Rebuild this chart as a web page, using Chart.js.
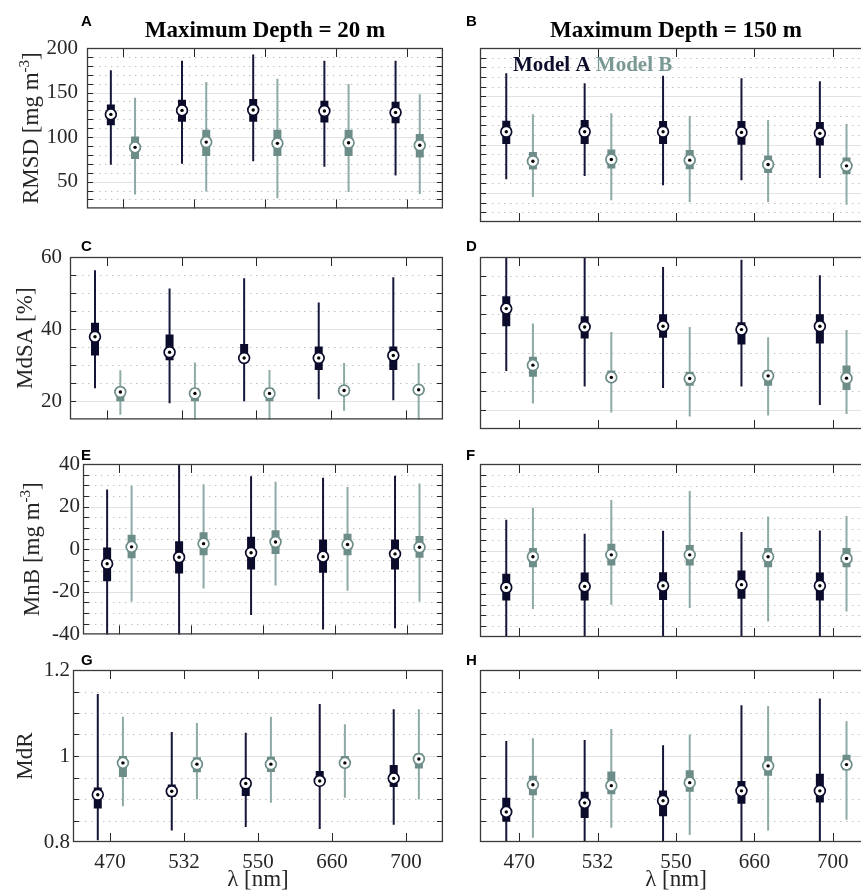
<!DOCTYPE html>
<html>
<head>
<meta charset="utf-8">
<script src="https://cdn.jsdelivr.net/npm/chart.js@4.4.1/dist/chart.umd.min.js"></script>
<style>
html, body { margin: 0; padding: 0; background: #fff; overflow: hidden; width: 861px; height: 890px; }
canvas { position: absolute; }
</style>
</head>
<body>
<canvas id="pA" width="450" height="230" style="left:0;top:0"></canvas>
<canvas id="pB" width="425" height="230" style="left:455px;top:0"></canvas>
<canvas id="pC" width="450" height="210" style="left:0;top:230px"></canvas>
<canvas id="pD" width="425" height="210" style="left:455px;top:230px"></canvas>
<canvas id="pE" width="450" height="210" style="left:0;top:440px"></canvas>
<canvas id="pF" width="425" height="210" style="left:455px;top:440px"></canvas>
<canvas id="pG" width="450" height="240" style="left:0;top:650px"></canvas>
<canvas id="pH" width="425" height="240" style="left:455px;top:650px"></canvas>
<script>
var wavelengths = ['470', '532', '550', '660', '700'];
var seriesNames = ['Model A', 'Model B'];
var depthTitles = ['Maximum Depth = 20 m', 'Maximum Depth = 150 m'];

// each row: [lower whisker, q1, median, q3, upper whisker]
var rmsd20A = [[69, 113.4, 125.5, 136.6, 175], [70, 117.2, 130, 141.8, 185.8], [72.9, 117.2, 130.4, 142.8, 192.7], [66.6, 116.5, 129.3, 140.8, 185.8], [57, 115.5, 127.6, 139.7, 185.8]];
var rmsd20B = [[35.5, 75.3, 88.5, 100.6, 144.2], [39, 78.8, 94.4, 108.2, 161.9], [31.3, 78.8, 93, 108.2, 165.4], [38.3, 78.8, 93.7, 108.2, 159.5], [36.2, 77, 90.9, 103.4, 148]];
var rmsd150A = [[64.2, 100.6, 113.4, 124.8, 174], [67.7, 100.6, 113.4, 125.5, 163.6], [58, 100.6, 113.4, 124.5, 171.3], [63.2, 99.9, 112.7, 124.5, 168.8], [65.6, 99.2, 111.7, 123.4, 165.7]];
var rmsd150B = [[45.9, 74.3, 82.9, 92.3, 131.4], [42.4, 75.3, 84.7, 95, 132.5], [40.7, 74.6, 84, 94.4, 129.7], [40.7, 70.8, 79.5, 88.8, 125.5], [37.9, 69.4, 78.1, 86.7, 121.4]];

var mdsa20A = [[23.6, 32.7, 37.9, 41.8, 56.3], [19.5, 31.4, 33.6, 38.5, 51.3], [20, 31, 32, 35.9, 54.1], [20.6, 28.7, 32, 35.2, 47.4], [20.3, 28.7, 32.7, 35.2, 54.4]];
var mdsa20B = [[16.3, 20, 22.6, 24, 28.6], [14, 20, 22.2, 23.6, 30.8], [14, 20, 22.2, 23.8, 28.7], [17.4, 22.3, 23, 24, 30.6], [14, 22.5, 23.2, 24.2, 30.6]];
var mdsa150A = [[30.2, 41.9, 46.5, 49.7, 62], [26.1, 38.7, 41.7, 44.5, 62], [25.7, 38.9, 41.9, 45, 57.4], [26.1, 37.1, 41, 42.9, 59.3], [21.3, 37.4, 41.9, 45, 55.2]];
var mdsa150B = [[21.7, 28.7, 31.7, 33.9, 42.6], [19.3, 27.4, 28.5, 30.3, 40.4], [18.3, 26.3, 28.2, 30, 41.7], [18.5, 26.3, 28.9, 30.4, 39], [18.9, 25.2, 28.3, 31.6, 40.9]];

var mnb20A = [[-42, -15.1, -6.8, 0.8, 28], [-42, -11.4, -3.8, 3.7, 42], [-30.9, -9.5, -1.7, 5.8, 34.2], [-37.7, -11.1, -3.5, 4.6, 33.5], [-37.1, -9.5, -2.2, 4.6, 34.5]];
var mnb20B = [[-24.6, -4.3, 1.1, 6.8, 29.8], [-18.5, -2.8, 2.6, 8, 30.5], [-17.1, -2.2, 3.4, 8.9, 31.7], [-19.5, -2.8, 2.2, 7.2, 29.2], [-24.6, -4, 0.9, 6.2, 30.8]];
var mnb150A = [[-42, -23.1, -17.1, -10.8, 14.2], [-42, -23.1, -16.6, -10.2, 7.7], [-42, -22.9, -16.3, -10, 9.1], [-42, -22.3, -15.8, -9.2, 8.5], [-42, -23.1, -16.3, -10.2, 9.2]];
var mnb150B = [[-27.1, -7.8, -2.9, 1.2, 19.7], [-25.1, -6.9, -2, 3.1, 23.4], [-26.6, -6.9, -2, 2.6, 27.5], [-32.8, -7.8, -2.9, 1.2, 15.7], [-28.2, -7.8, -3.7, 1.2, 16]];

var mdr20A = [[0.804, 0.878, 0.910, 0.927, 1.144], [0.827, 0.905, 0.918, 0.934, 1.056], [0.835, 0.907, 0.936, 0.949, 1.054], [0.830, 0.932, 0.942, 0.965, 1.121], [0.840, 0.928, 0.948, 0.979, 1.109]];
var mdr20B = [[0.883, 0.951, 0.984, 1.0, 1.091], [0.899, 0.962, 0.981, 0.997, 1.077], [0.891, 0.963, 0.981, 0.998, 1.091], [0.903, 0.973, 0.984, 1.0, 1.074], [0.899, 0.971, 0.993, 1.006, 1.109]];
var mdr150A = [[0.79, 0.847, 0.870, 0.903, 1.035], [0.79, 0.856, 0.891, 0.917, 1.037], [0.79, 0.860, 0.896, 0.920, 1.025], [0.79, 0.889, 0.919, 0.942, 1.118], [0.79, 0.892, 0.919, 0.959, 1.134]];
var mdr150B = [[0.810, 0.909, 0.933, 0.954, 1.041], [0.833, 0.911, 0.931, 0.964, 1.063], [0.816, 0.917, 0.938, 0.967, 1.050], [0.827, 0.954, 0.977, 1.0, 1.116], [0.852, 0.967, 0.980, 1.003, 1.081]];

// y ticks (minor steps) and the labelled ones
var rmsdTicks = [20, 30, 40, 50, 60, 70, 80, 90, 100, 110, 120, 130, 140, 150, 160, 170, 180, 190, 200];
var rmsdLabels = [50, 100, 150, 200];
var mdsaTicks = [15, 20, 25, 30, 35, 40, 45, 50, 55, 60];
var mdsaLabels = [20, 40, 60];
var mnbTicks = [-40, -35, -30, -25, -20, -15, -10, -5, 0, 5, 10, 15, 20, 25, 30, 35, 40];
var mnbLabels = [-40, -20, 0, 20, 40];
var mdrTicks = [0.8, 0.85, 0.9, 0.95, 1, 1.05, 1.1, 1.15, 1.2];
var mdrLabels = [0.8, 1, 1.2];

var SERIF = '"Liberation Serif", "Times New Roman", serif';
var SANS = '"Liberation Sans", Arial, sans-serif';
var colorA = { box: '#0b0b2b', whisker: '#16163a', legend: '#0b0b2b' };
var colorB = { box: '#6d8d89', whisker: '#8eaaa6', legend: '#7a9995' };

var rowLayout = [
    { padTop: 48, padBottom: 8, letterY: 26 },
    { padTop: 27, padBottom: 11, letterY: 21 },
    { padTop: 24, padBottom: 13, letterY: 20 },
    { padTop: 20, padBottom: 0, letterY: 15 }
];

var panels = [
    { id: 'pA', row: 0, col: 0, letter: 'A', a: rmsd20A, b: rmsd20B, min: 20, max: 200, ticks: rmsdTicks, labels: rmsdLabels,
      axisW: 87, labelPad: 9, ylab: ['RMSD [mg m', '-3', ']'], ylabX: 38, title: depthTitles[0] },
    { id: 'pB', row: 0, col: 1, letter: 'B', a: rmsd150A, b: rmsd150B, min: 20, max: 200, ticks: rmsdTicks, labels: rmsdLabels,
      title: depthTitles[1], legend: true },
    { id: 'pC', row: 1, col: 0, letter: 'C', a: mdsa20A, b: mdsa20B, min: 15, max: 60, ticks: mdsaTicks, labels: mdsaLabels,
      axisW: 70, labelPad: 8, ylab: ['MdSA [%]', '', ''], ylabX: 32 },
    { id: 'pD', row: 1, col: 1, letter: 'D', a: mdsa150A, b: mdsa150B, min: 15, max: 60, ticks: mdsaTicks, labels: mdsaLabels },
    { id: 'pE', row: 2, col: 0, letter: 'E', a: mnb20A, b: mnb20B, min: -40, max: 40, ticks: mnbTicks, labels: mnbLabels,
      axisW: 83, labelPad: 3, ylab: ['MnB [mg m', '-3', ']'], ylabX: 39 },
    { id: 'pF', row: 2, col: 1, letter: 'F', a: mnb150A, b: mnb150B, min: -40, max: 40, ticks: mnbTicks, labels: mnbLabels },
    { id: 'pG', row: 3, col: 0, letter: 'G', a: mdr20A, b: mdr20B, min: 0.8, max: 1.2, ticks: mdrTicks, labels: mdrLabels,
      axisW: 73, labelPad: 3, ylab: ['MdR', '', ''], ylabX: 32 },
    { id: 'pH', row: 3, col: 1, letter: 'H', a: mdr150A, b: mdr150B, min: 0.8, max: 1.2, ticks: mdrTicks, labels: mdrLabels }
];

function isLabelled(v, labels) {
    for (var i = 0; i < labels.length; i++) {
        if (Math.abs(v - labels[i]) < 1e-9) return true;
    }
    return false;
}

function boxDatasets(rows, offset, colors) {
    var whisk = [], box = [], med = [];
    rows.forEach(function(r, i) {
        var x = i + 1 + offset;
        whisk.push({ x: x, y: r[0] }, { x: x, y: r[4] }, { x: x, y: null });
        box.push({ x: x, y: r[1] }, { x: x, y: r[3] }, { x: x, y: null });
        med.push({ x: x, y: r[2] });
    });
    return [
        { type: 'line', data: whisk, borderColor: colors.whisker, borderWidth: 2, pointRadius: 0, spanGaps: false, clip: 0, order: 4 },
        { type: 'line', data: box, borderColor: colors.box, borderWidth: 8, pointRadius: 0, spanGaps: false, clip: 0, order: 3 },
        { type: 'scatter', data: med, pointRadius: 5.4, pointBackgroundColor: '#ffffff', pointBorderColor: colors.box, pointBorderWidth: 1.7, order: 2 },
        { type: 'scatter', data: med, pointRadius: 1.7, pointBackgroundColor: '#000000', pointBorderWidth: 0, order: 1 }
    ];
}

function drawRotatedLabel(ctx, parts, x, cy) {
    var big = '23px ' + SERIF, small = '15px ' + SERIF;
    ctx.save();
    ctx.translate(x, cy);
    ctx.rotate(-Math.PI / 2);
    ctx.fillStyle = '#262626';
    ctx.textAlign = 'left';
    ctx.textBaseline = 'alphabetic';
    ctx.font = big;
    var w0 = ctx.measureText(parts[0]).width;
    var w2 = ctx.measureText(parts[2]).width;
    ctx.font = small;
    var w1 = ctx.measureText(parts[1]).width;
    var sx = -(w0 + w1 + w2) / 2;
    ctx.font = big;
    ctx.fillText(parts[0], sx, 0);
    ctx.font = small;
    ctx.fillText(parts[1], sx + w0, -9);
    ctx.font = big;
    ctx.fillText(parts[2], sx + w0 + w1, 0);
    ctx.restore();
}

var framePlugin = {
    id: 'frame',
    beforeDatasetsDraw: function(chart, args, opts) {
        var a = chart.chartArea, y = chart.scales.y, ctx = chart.ctx;
        ctx.save();
        ctx.lineWidth = 1;
        opts.ticks.forEach(function(v) {
            if (v <= opts.min + 1e-9 || v >= opts.max - 1e-9) return;
            var py = Math.round(y.getPixelForValue(v)) + 0.5;
            var major = isLabelled(v, opts.labels);
            ctx.beginPath();
            ctx.setLineDash(major ? [] : [1.5, 4.5]);
            ctx.strokeStyle = major ? '#e2e2e2' : '#c2c2c2';
            ctx.moveTo(a.left, py);
            ctx.lineTo(a.right, py);
            ctx.stroke();
        });
        ctx.restore();
    },
    afterDraw: function(chart, args, opts) {
        var a = chart.chartArea, x = chart.scales.x, y = chart.scales.y, ctx = chart.ctx;
        ctx.save();
        ctx.setLineDash([]);
        ctx.strokeStyle = '#262626';
        ctx.lineWidth = 1;
        opts.ticks.forEach(function(v) {
            if (v <= opts.min + 1e-9 || v >= opts.max - 1e-9) return;
            var py = Math.round(y.getPixelForValue(v)) + 0.5;
            ctx.beginPath();
            ctx.moveTo(a.left, py); ctx.lineTo(a.left + 6, py);
            ctx.moveTo(a.right - 6, py); ctx.lineTo(a.right, py);
            ctx.stroke();
        });
        wavelengths.forEach(function(w, i) {
            var px = Math.round(x.getPixelForValue(i + 1)) + 0.5;
            ctx.beginPath();
            ctx.moveTo(px, a.top); ctx.lineTo(px, a.top + 9);
            ctx.moveTo(px, a.bottom); ctx.lineTo(px, a.bottom - 9);
            ctx.stroke();
        });
        ctx.strokeStyle = '#3a3a3a';
        ctx.lineWidth = 1.3;
        ctx.strokeRect(a.left + 0.5, a.top + 0.5, a.right - a.left - 1, a.bottom - a.top - 1);

        ctx.fillStyle = '#000000';
        ctx.textBaseline = 'alphabetic';
        ctx.textAlign = 'left';
        ctx.font = 'bold 15px ' + SANS;
        ctx.fillText(opts.letter, opts.letterX, opts.letterY);

        if (opts.title) {
            ctx.textAlign = 'center';
            ctx.font = 'bold 23px ' + SERIF;
            ctx.fillText(opts.title, (a.left + a.right) / 2, 37);
        }
        if (opts.legend) {
            ctx.textAlign = 'left';
            ctx.font = 'bold 21px ' + SERIF;
            var lx = 58;
            ctx.fillStyle = colorA.legend;
            ctx.fillText(seriesNames[0], lx, 71);
            lx += ctx.measureText(seriesNames[0] + ' ').width;
            ctx.fillStyle = colorB.legend;
            ctx.fillText(seriesNames[1], lx, 71);
        }
        if (opts.ylab) {
            drawRotatedLabel(ctx, opts.ylab, opts.ylabX, (a.top + a.bottom) / 2);
        }
        ctx.restore();
    }
};

function buildPanel(p) {
    var row = rowLayout[p.row];
    var isLeft = p.col === 0;
    var isBottom = p.row === 3;
    var datasets = boxDatasets(p.a, -0.165, colorA).concat(boxDatasets(p.b, 0.175, colorB));
    var ctx = document.getElementById(p.id).getContext('2d');
    new Chart(ctx, {
        type: 'line',
        data: { datasets: datasets },
        options: {
            responsive: false,
            animation: false,
            events: [],
            layout: {
                padding: { top: row.padTop, bottom: row.padBottom, left: isLeft ? 0 : 25, right: isLeft ? 4 : 8 }
            },
            plugins: {
                legend: { display: false },
                tooltip: { enabled: false },
                frame: {
                    min: p.min, max: p.max, ticks: p.ticks, labels: p.labels,
                    letter: p.letter, letterX: isLeft ? 81 : 11, letterY: row.letterY,
                    title: p.title, legend: p.legend, ylab: p.ylab, ylabX: p.ylabX
                }
            },
            scales: {
                x: {
                    type: 'linear',
                    min: 0.5,
                    max: 5.5,
                    display: isBottom,
                    afterBuildTicks: function(scale) {
                        scale.ticks = wavelengths.map(function(w, i) { return { value: i + 1 }; });
                    },
                    afterFit: function(scale) { scale.height = isBottom ? 48 : 0; },
                    grid: { display: false, drawTicks: false },
                    border: { display: false },
                    ticks: {
                        autoSkip: false,
                        maxRotation: 0,
                        padding: 8,
                        color: '#262626',
                        font: { family: SERIF, size: 21 },
                        callback: function(value, index) { return wavelengths[index]; }
                    },
                    title: {
                        display: true,
                        text: 'λ [nm]',
                        color: '#262626',
                        font: { family: SERIF, size: 23 },
                        padding: { top: 0, bottom: -4 }
                    }
                },
                y: {
                    type: 'linear',
                    min: p.min,
                    max: p.max,
                    display: isLeft,
                    afterBuildTicks: function(scale) {
                        scale.ticks = p.ticks.map(function(v) { return { value: v }; });
                    },
                    afterFit: function(scale) { scale.width = isLeft ? p.axisW : 0; },
                    grid: { display: false, drawTicks: false },
                    border: { display: false },
                    ticks: {
                        autoSkip: false,
                        padding: p.labelPad || 0,
                        color: '#262626',
                        font: { family: SERIF, size: 21 },
                        callback: function(value) {
                            return isLabelled(value, p.labels) ? String(Math.round(value * 100) / 100) : '';
                        }
                    }
                }
            }
        },
        plugins: [framePlugin]
    });
}

panels.forEach(buildPanel);
</script>
</body>
</html>
